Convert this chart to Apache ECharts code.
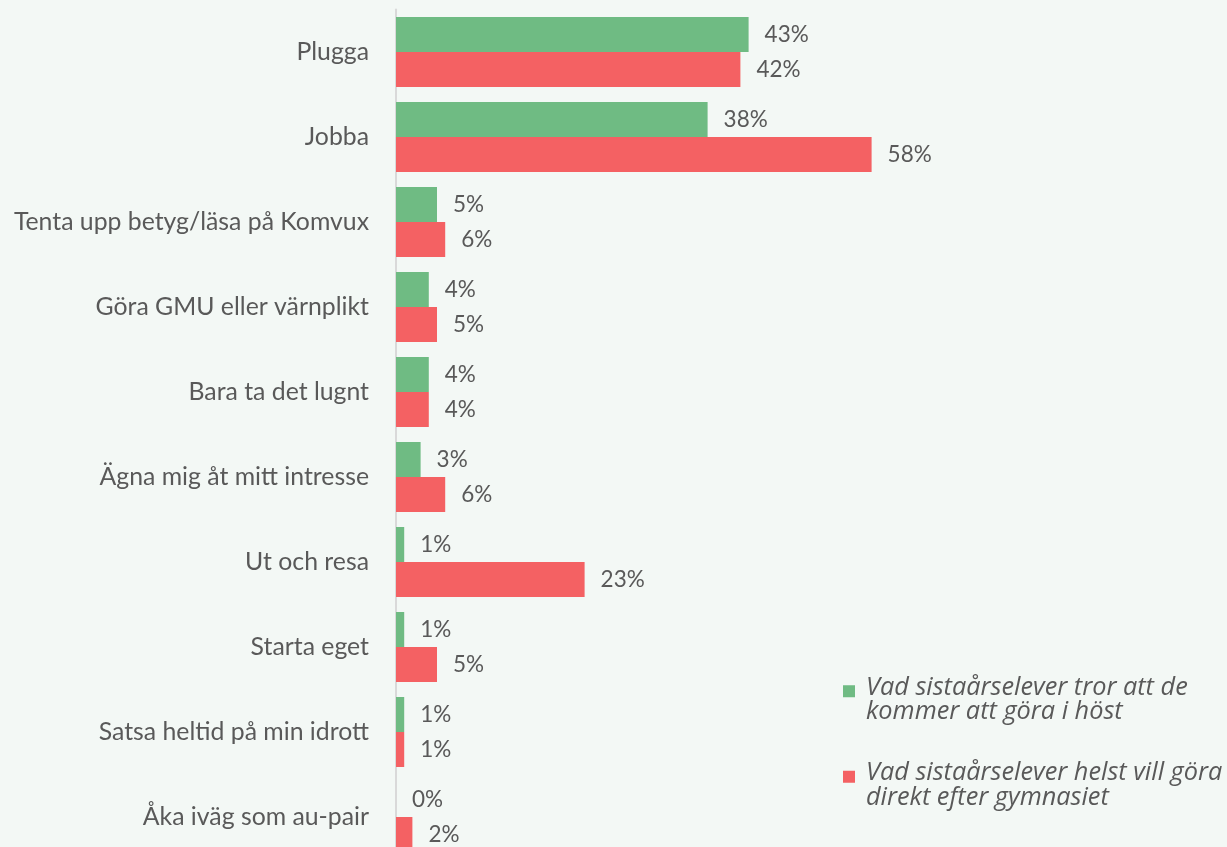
<!DOCTYPE html>
<html><head><meta charset="utf-8">
<script src="https://cdn.jsdelivr.net/npm/echarts@6/dist/echarts.min.js"></script>
<style>html,body{margin:0;padding:0;background:#F3F8F5}#c{width:1227px;height:847px}</style>
</head><body><div id="c"></div>
<script>
var categories = ["Plugga","Jobba","Tenta upp betyg/läsa på Komvux","Göra GMU eller värnplikt","Bara ta det lugnt","Ägna mig åt mitt intresse","Ut och resa","Starta eget","Satsa heltid på min idrott","Åka iväg som au-pair"];
var seriesNames = ["Vad sistaårselever tror att de kommer att göra i höst","Vad sistaårselever helst vill göra direkt efter gymnasiet"];
var legendLabels = ["Vad sistaårselever tror att de\nkommer att göra i höst","Vad sistaårselever helst vill göra\ndirekt efter gymnasiet"];
var tror = [43,38,5,4,4,3,1,1,1,0];
var helst = [42,58,6,5,4,6,23,5,1,2];
var colors = ["#6FBB83","#F46163"];

var chart = echarts.init(document.getElementById('c'));
var labelOpt = {show:true,position:'right',distance:16,color:'#595959',fontSize:22.5,fontFamily:'Lato',formatter:function(p){return p.value+'%';}};
chart.setOption({
  backgroundColor:'#F3F8F5',
  animation:false,
  grid:{left:396,top:9.5,right:11,bottom:-12.5,containLabel:false,outerBoundsMode:'none'},
  xAxis:{type:'value',min:0,max:100,show:false},
  yAxis:{type:'category',data:categories,inverse:true,
    axisLine:{show:true,lineStyle:{color:'#D9D9D9',width:2}},
    axisTick:{show:false},
    axisLabel:{color:'#595959',fontSize:24.8,fontFamily:'Lato',margin:27}},
  legend:{orient:'vertical',left:838,top:670,itemGap:36,itemWidth:12,itemHeight:30,
    icon:'path://M0,0L10,0L10,10L0,10Z M0,24L0.01,24L0.01,24.01Z',
    data:seriesNames,
    formatter:function(n){return legendLabels[seriesNames.indexOf(n)];},
    textStyle:{color:'#595959',fontSize:25.3,fontStyle:'italic',fontFamily:'Open Sans',lineHeight:24.5,padding:[0,0,0,6]}},
  series:[
    {name:seriesNames[0],type:'bar',data:tror,barWidth:35,barGap:'0%',itemStyle:{color:colors[0]},label:labelOpt},
    {name:seriesNames[1],type:'bar',data:helst,barWidth:35,barGap:'0%',itemStyle:{color:colors[1]},label:labelOpt}
  ]
});
</script></body></html>
